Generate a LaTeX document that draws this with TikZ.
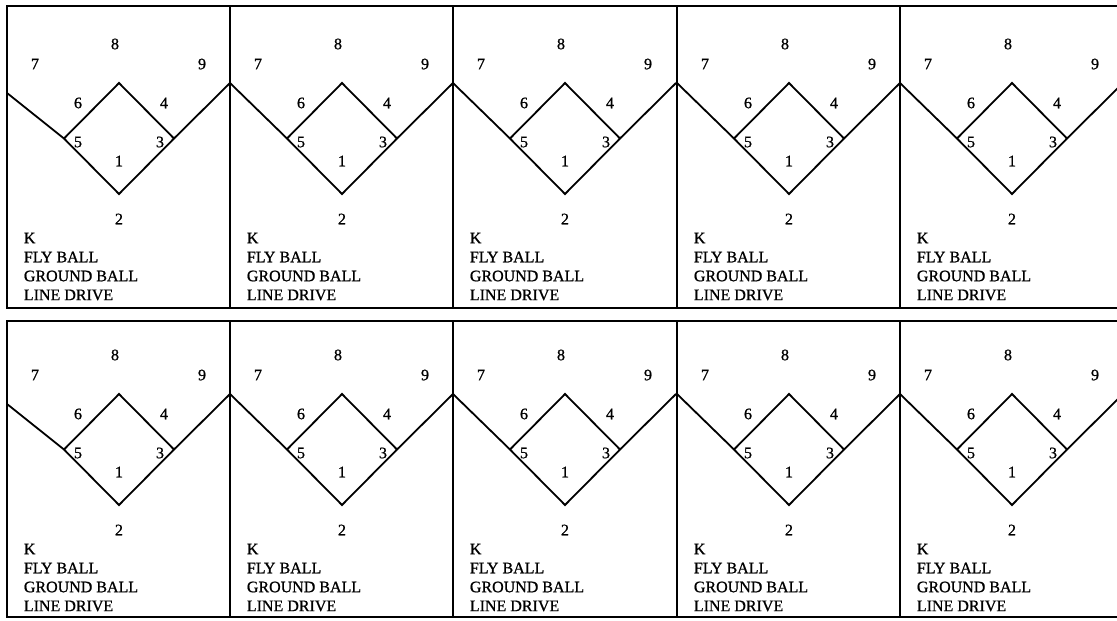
\documentclass[tikz,border=0pt]{standalone}
\usepackage{fontspec}
\setmainfont{Liberation Serif}[FakeBold=0.9]
\begin{document}
\begin{tikzpicture}[x=1pt,y=-1pt,line width=1.8pt,line join=miter,
  lbl/.style={inner sep=0pt,font=\fontsize{16}{19}\selectfont},
  txt/.style={inner sep=0pt,anchor=west,font=\fontsize{16}{19}\selectfont}]
\useasboundingbox (0,0) rectangle (1117,621);
\fill[white] (0,0) rectangle (1117,621);
\clip (0,0) rectangle (1117,621);
\foreach \r/\ya/\yb/\hy in {1/6/308/194,2/321/617/505}{
  \draw (7,\ya) rectangle (1123,\yb);
  \foreach \c/\x/\lo in {1/7/101,2/230/111,3/453/111,4/677/111,5/900/111}{
    \draw (\x,\ya) -- (\x,\yb);
    \pgfmathsetmacro\hx{\x+112}
    \pgfmathsetmacro\rx{\x+223}
    \coordinate (h\r\c) at (\hx,\hy);
    \coordinate (sb\r\c) at (\hx,\hy-111);
    \coordinate (tb\r\c) at (\hx-55,\hy-55.5);
    \coordinate (fb\r\c) at (\hx+55,\hy-55.5);
    \coordinate (l\r\c) at (\x,\hy-\lo);
    \coordinate (r\r\c) at (\rx,\hy-111);
    \draw (l\r\c) -- (tb\r\c) -- (h\r\c) -- (fb\r\c) -- (r\r\c);
    \draw (tb\r\c) -- (sb\r\c) -- (fb\r\c);
    \node[lbl] (p7\r\c) at ([shift={(-84,-130)}]h\r\c) {7};
    \node[lbl] (p8\r\c) at ([shift={(-4,-150)}]h\r\c) {8};
    \node[lbl] (p9\r\c) at ([shift={(83,-130)}]h\r\c) {9};
    \node[lbl] (p6\r\c) at ([shift={(-41,-91)}]h\r\c) {6};
    \node[lbl] (p4\r\c) at ([shift={(45,-91)}]h\r\c) {4};
    \node[lbl] (p5\r\c) at ([shift={(-41,-52)}]h\r\c) {5};
    \node[lbl] (p3\r\c) at ([shift={(41,-52)}]h\r\c) {3};
    \node[lbl] (p1\r\c) at ([shift={(0,-33)}]h\r\c) {1};
    \node[lbl] (p2\r\c) at ([shift={(0,25)}]h\r\c) {2};
    \node[txt] (k\r\c) at (\x+16,\hy+44) {K};
    \node[txt] (fly\r\c) at (\x+16,\hy+63) {FLY BALL};
    \node[txt] (gr\r\c) at (\x+16,\hy+82) {GROUND BALL};
    \node[txt] (ld\r\c) at (\x+16,\hy+101) {LINE DRIVE};
  }
}
\end{tikzpicture}
\end{document}
